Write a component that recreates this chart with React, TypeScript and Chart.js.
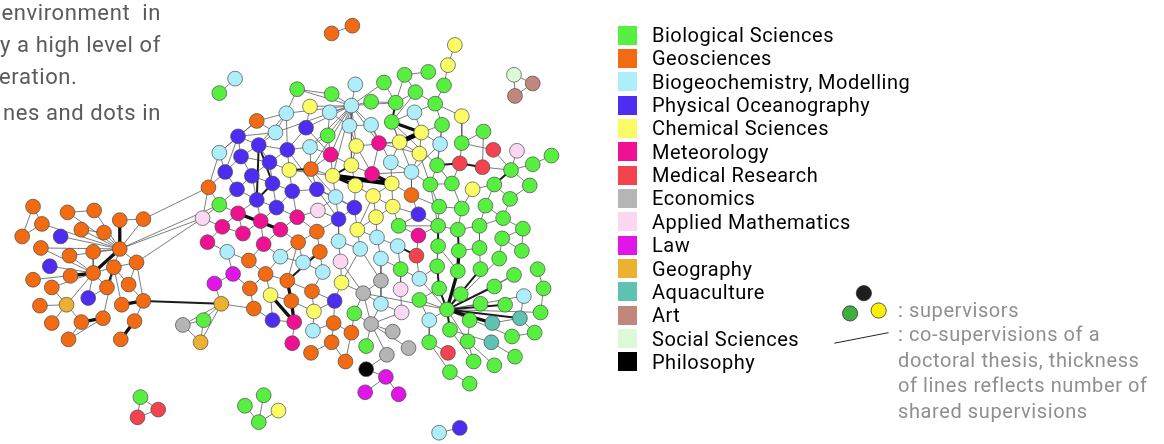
import React, { useEffect, useRef } from "react";
import { Chart, registerables } from "chart.js";
Chart.register(...registerables);

const CATEGORY_CODES = ["B", "G", "C", "P", "Y", "M", "R", "E", "A", "L", "O", "Q", "T", "S", "K"];
const CATEGORY_NAMES = [
  "Biological Sciences", "Geosciences", "Biogeochemistry, Modelling", "Physical Oceanography",
  "Chemical Sciences", "Meteorology", "Medical Research", "Economics", "Applied Mathematics",
  "Law", "Geography", "Aquaculture", "Art", "Social Sciences", "Philosophy",
];
const CATEGORY_COLORS = [
  "#58f040", "#f26b12", "#aeeefa", "#4f2cf2", "#fbfb66", "#ef1192", "#f3434f", "#b5b5b5",
  "#fcd7f1", "#e115e7", "#edb132", "#5fc2b2", "#c1877c", "#dcfad6", "#000000",
];

type N = [string, number, number, string];

const westNodes: N[] = [
  ["w1", 25, 206, "G"], ["w2", 34, 224, "G"], ["w3", 14, 237, "G"], ["w4", 60, 212, "G"], ["w5", 87, 210, "G"],
  ["w6", 113, 220, "G"], ["w7", 137, 219, "G"], ["w8", 74, 230, "G"], ["w9", 97, 233, "G"], ["w10", 53, 237, "P"],
  ["w11", 33, 249, "G"], ["w12", 62, 257, "G"], ["w13", 86, 253, "G"], ["w14", 113, 250, "G"], ["w15", 130, 264, "G"],
  ["w16", 42, 268, "P"], ["w17", 63, 278, "G"], ["w18", 86, 275, "G"], ["w19", 107, 269, "G"], ["w20", 25, 282, "G"],
  ["w21", 44, 290, "G"], ["w22", 100, 290, "G"], ["w23", 122, 287, "G"], ["w24", 81, 301, "P"], ["w25", 59, 308, "O"],
  ["w26", 32, 309, "G"], ["w27", 115, 308, "G"], ["w28", 137, 304, "G"], ["w29", 44, 327, "G"], ["w30", 74, 326, "G"],
  ["w31", 96, 322, "G"], ["w32", 128, 325, "G"], ["w33", 61, 344, "G"], ["w34", 114, 344, "G"],
];

const coreNodes: N[] = [
  ["c1", 230, 73, "C"], ["c2", 214, 88, "B"], ["c3", 293, 84, "B"], ["c4", 328, 89, "B"], ["c5", 352, 79, "C"],
  ["c6", 381, 77, "B"], ["c7", 402, 69, "B"], ["c8", 426, 66, "B"], ["c9", 413, 87, "B"], ["c10", 393, 98, "B"],
  ["c11", 368, 97, "B"], ["c12", 348, 101, "C"], ["c13", 433, 99, "B"], ["c14", 442, 80, "B"], ["c15", 446, 59, "Y"],
  ["c16", 453, 38, "Y"], ["c17", 306, 102, "Y"], ["c18", 282, 109, "C"], ["c19", 326, 108, "C"], ["c20", 412, 108, "C"],
  ["c21", 460, 112, "Y"], ["c22", 252, 117, "G"], ["c23", 302, 124, "P"], ["c24", 346, 122, "C"], ["c25", 368, 121, "C"],
  ["c26", 389, 118, "B"], ["c27", 440, 121, "B"], ["c28", 324, 132, "B"], ["c29", 271, 129, "C"], ["c30", 233, 133, "P"],
  ["c31", 419, 129, "Y"], ["c32", 482, 128, "B"], ["c33", 254, 142, "P"], ["c34", 283, 147, "P"], ["c35", 306, 144, "C"],
  ["c36", 353, 143, "Y"], ["c37", 376, 140, "M"], ["c38", 397, 139, "Y"], ["c39", 438, 141, "C"], ["c40", 460, 140, "B"],
  ["c41", 492, 147, "R"], ["c42", 516, 148, "A"], ["c43", 551, 153, "B"], ["c44", 327, 152, "M"], ["c45", 214, 150, "C"],
  ["c46", 236, 154, "P"], ["c47", 265, 160, "P"], ["c48", 285, 168, "Y"], ["c49", 307, 167, "G"], ["c50", 348, 163, "Y"],
  ["c51", 369, 172, "M"], ["c52", 388, 160, "C"], ["c53", 417, 151, "Y"], ["c54", 435, 163, "B"], ["c55", 458, 161, "R"],
  ["c56", 481, 165, "R"], ["c57", 532, 162, "B"], ["c58", 510, 168, "B"], ["c59", 329, 174, "Y"], ["c60", 220, 170, "P"],
  ["c61", 247, 174, "P"], ["c62", 409, 170, "C"], ["c63", 203, 186, "G"], ["c64", 268, 182, "P"], ["c65", 232, 188, "P"],
  ["c66", 288, 190, "P"], ["c67", 313, 188, "P"], ["c68", 352, 184, "Y"], ["c69", 389, 182, "Y"], ["c70", 428, 183, "B"],
  ["c71", 450, 182, "B"], ["c72", 471, 188, "Y"], ["c73", 493, 183, "B"], ["c74", 529, 184, "B"], ["c75", 332, 196, "C"],
  ["c76", 370, 195, "Y"], ["c77", 409, 194, "G"], ["c78", 214, 204, "B"], ["c79", 252, 199, "P"], ["c80", 272, 207, "P"],
  ["c81", 351, 207, "P"], ["c82", 314, 210, "A"], ["c83", 390, 206, "Y"], ["c84", 437, 206, "B"], ["c85", 460, 208, "B"],
  ["c86", 484, 205, "B"], ["c87", 509, 198, "B"], ["c88", 197, 218, "A"], ["c89", 233, 213, "M"], ["c90", 256, 221, "M"],
  ["c91", 293, 217, "M"], ["c92", 335, 219, "P"], ["c93", 373, 217, "Y"], ["c94", 416, 214, "P"], ["c95", 502, 218, "B"],
  ["c96", 217, 227, "M"], ["c97", 276, 230, "M"], ["c98", 313, 232, "G"], ["c99", 354, 230, "Y"], ["c100", 238, 234, "M"],
  ["c101", 396, 226, "B"], ["c102", 436, 226, "B"], ["c103", 456, 230, "B"], ["c104", 478, 226, "B"], ["c105", 522, 229, "B"],
  ["c106", 374, 238, "C"], ["c107", 416, 236, "M"], ["c108", 202, 243, "M"], ["c109", 259, 245, "M"], ["c110", 294, 243, "G"],
  ["c111", 335, 242, "C"], ["c112", 395, 247, "C"], ["c113", 436, 247, "B"], ["c114", 457, 252, "B"], ["c115", 478, 249, "B"],
  ["c116", 501, 239, "B"], ["c117", 521, 252, "B"], ["c118", 222, 253, "C"], ["c119", 244, 262, "G"], ["c120", 276, 258, "C"],
  ["c121", 299, 264, "C"], ["c122", 316, 253, "G"], ["c123", 357, 250, "C"], ["c124", 378, 260, "C"], ["c125", 414, 257, "R"],
  ["c126", 337, 263, "A"], ["c127", 435, 268, "B"], ["c128", 398, 271, "B"], ["c129", 456, 273, "B"], ["c130", 479, 271, "B"],
  ["c131", 537, 271, "B"], ["c132", 513, 277, "B"], ["c133", 228, 276, "L"], ["c134", 261, 276, "G"], ["c135", 319, 274, "C"],
  ["c136", 283, 283, "G"], ["c137", 338, 285, "Y"], ["c138", 378, 283, "E"], ["c139", 417, 281, "C"], ["c140", 209, 286, "L"],
  ["c141", 245, 291, "G"], ["c142", 308, 294, "G"], ["c143", 360, 296, "E"], ["c144", 398, 292, "A"], ["c145", 437, 291, "B"],
  ["c146", 493, 289, "B"], ["c147", 543, 291, "B"], ["c148", 266, 298, "Y"], ["c149", 287, 304, "G"], ["c150", 331, 304, "P"],
  ["c151", 216, 307, "O"], ["c152", 378, 307, "C"], ["c153", 417, 303, "B"], ["c154", 459, 297, "B"], ["c155", 523, 299, "C"],
  ["c156", 249, 312, "G"], ["c157", 310, 315, "Y"], ["c158", 351, 317, "B"], ["c159", 399, 316, "A"], ["c160", 445, 313, "B"],
  ["c161", 479, 307, "B"], ["c162", 504, 308, "B"], ["c163", 540, 316, "B"], ["c164", 198, 324, "B"], ["c165", 268, 324, "P"],
  ["c166", 290, 326, "M"], ["c167", 330, 327, "G"], ["c168", 368, 328, "E"], ["c169", 427, 324, "C"], ["c170", 468, 324, "B"],
  ["c171", 491, 327, "Q"], ["c172", 519, 322, "Q"], ["c173", 177, 329, "E"], ["c174", 309, 335, "C"], ["c175", 348, 337, "G"],
  ["c176", 390, 336, "E"], ["c177", 448, 334, "B"], ["c178", 511, 341, "B"], ["c179", 534, 337, "B"], ["c180", 195, 347, "O"],
  ["c181", 288, 348, "M"], ["c182", 328, 347, "G"], ["c183", 363, 351, "B"], ["c184", 406, 353, "E"], ["c185", 427, 347, "B"],
  ["c186", 466, 346, "B"], ["c187", 490, 347, "Q"], ["c188", 307, 358, "G"], ["c189", 384, 360, "E"], ["c190", 446, 358, "R"],
  ["c191", 342, 367, "G"], ["c192", 472, 367, "B"], ["c193", 493, 371, "B"], ["c194", 514, 362, "B"], ["c195", 363, 375, "K"],
  ["c196", 383, 383, "L"], ["c197", 448, 378, "B"], ["c198", 362, 399, "L"], ["c199", 396, 401, "L"], ["c200", 468, 390, "B"],
  ["c201", 498, 260, "B"],
];

const islandNodes: N[] = [
  ["i1", 328, 26, "G"], ["i2", 349, 18, "G"], ["i3", 513, 69, "S"], ["i4", 532, 78, "T"], ["i5", 514, 91, "T"],
  ["i6", 134, 404, "B"], ["i7", 152, 417, "R"], ["i8", 131, 425, "R"], ["i9", 240, 413, "B"], ["i10", 259, 402, "B"],
  ["i11", 274, 418, "Y"], ["i12", 254, 430, "B"], ["i13", 437, 441, "C"], ["i14", 458, 436, "P"],
];

const westLinks: [string, string][] = [
  ["w1", "w2 w3"], ["w2", "w3 w14"], ["w4", "w5 w14"], ["w5", "w14"], ["w6", "w7 w14*3"], ["w7", "w14 c63"],
  ["w8", "w9 w14"], ["w9", "w14"], ["w10", "w14"], ["w11", "w14 w18"], ["w12", "w14 w18"], ["w13", "w14 w18"],
  ["w14", "w18*3 w19 w15 c88 c78"], ["w15", "w28 w23 c88 w19"], ["w16", "w18"], ["w17", "w18*3"],
  ["w18", "w19 w20 w21 w22 w24 w25"], ["w19", "w22*2 w27 w23 w31"], ["w21", "w25"], ["w22", "w24"], ["w23", "w28"],
  ["w25", "w26 w29 w30"], ["w27", "w28*3"], ["w28", "w32 c151*2"], ["w31", "w30*3 w33"], ["w30", "w33"], ["w32", "w34*3"],
];

const coreLinks: [string, string][] = [
  ["c1", "c2"], ["c3", "c12 c18 c4"], ["c4", "c12"], ["c5", "c12"], ["c6", "c12 c10"], ["c7", "c8 c10 c9"],
  ["c9", "c13 c10 c26"], ["c10", "c12 c26*2 c11"], ["c11", "c12"],
  ["c12", "c17 c18 c19 c24 c25 c23 c28 c35 c36 c44 c49 c50 c59 c37 c29"], ["c13", "c14 c27 c20 c21"],
  ["c14", "c15"], ["c15", "c16"], ["c17", "c23"], ["c18", "c22 c29 c33 c34"], ["c19", "c28 c24"], ["c20", "c26 c31"],
  ["c21", "c40"], ["c22", "c45 c30 c29"], ["c23", "c34 c44"], ["c24", "c36 c25"], ["c25", "c37 c52"],
  ["c26", "c31*3 c38 c54 c62"], ["c27", "c39 c54 c31"], ["c28", "c44 c35"], ["c29", "c33 c30"], ["c30", "c33 c46 c60 c45"],
  ["c31", "c38*4 c53 c39"], ["c32", "c56 c40"], ["c33", "c34 c46 c47 c64*2 c79*2"], ["c34", "c35 c47 c48 c67"],
  ["c35", "c49 c44"], ["c36", "c50 c51 c38"], ["c37", "c51 c53 c38"], ["c38", "c52 c53"], ["c39", "c54 c62"],
  ["c40", "c55 c41"], ["c41", "c58"], ["c42", "c58"], ["c43", "c57"], ["c44", "c59 c49 c50"], ["c45", "c60 c63"],
  ["c46", "c61 c47 c60"], ["c47", "c64 c48 c61"], ["c48", "c49*2 c59 c66"], ["c49", "c59 c67 c75"],
  ["c50", "c68 c59*2 c51"], ["c51", "c69*3 c62 c68"], ["c52", "c62 c69"], ["c53", "c62 c70"], ["c54", "c55*2 c70 c71"],
  ["c55", "c56*2 c71"], ["c56", "c58"], ["c57", "c58"], ["c58", "c73*2 c74"], ["c59", "c69*4 c68*3 c75"],
  ["c60", "c63 c65"], ["c61", "c64 c65 c79"], ["c62", "c70 c77"], ["c63", "c78 c88"], ["c64", "c66 c79*2 c80"],
  ["c65", "c79 c78"], ["c66", "c67 c80 c91"], ["c67", "c75 c92 c81"], ["c68", "c76 c81"], ["c69", "c76 c83 c77"],
  ["c70", "c84 c71 c102"], ["c71", "c85"], ["c72", "c85 c73"], ["c73", "c86 c87"], ["c74", "c87"],
  ["c75", "c92 c81 c82"], ["c76", "c83 c93 c99"], ["c77", "c94 c84"], ["c78", "c88 c89"], ["c79", "c80 c89 c90"],
  ["c80", "c90 c91"], ["c81", "c92 c99"], ["c82", "c91 c92"], ["c83", "c94 c93 c101"], ["c84", "c102 c85"],
  ["c85", "c103"], ["c86", "c104 c95"], ["c87", "c95"], ["c88", "c96"], ["c89", "c97*3 c96 c100"], ["c90", "c100 c109"],
  ["c91", "c98 c97"], ["c92", "c98 c111"], ["c93", "c99 c106"], ["c94", "c101 c102"], ["c95", "c105 c104"],
  ["c96", "c108 c100"], ["c97", "c110 c109"], ["c98", "c110 c122"], ["c99", "c106 c123"], ["c101", "c107 c102"],
  ["c102", "c113*2 c103 c107 c127"], ["c103", "c114*2 c104"], ["c104", "c115"], ["c105", "c117 c116"],
  ["c106", "c112 c124"], ["c107", "c125"], ["c108", "c118"], ["c109", "c119 c120"], ["c110", "c120 c121 c136"],
  ["c111", "c123 c126"], ["c112", "c125*2 c128"], ["c113", "c127 c129"], ["c114", "c129*3 c115"], ["c115", "c130"],
  ["c116", "c117 c201"], ["c118", "c133 c119"], ["c119", "c134"], ["c120", "c134 c121"], ["c121", "c135 c122"],
  ["c122", "c136*2 c135"], ["c123", "c137 c138"], ["c124", "c138 c139"], ["c125", "c139"], ["c126", "c137 c143"],
  ["c127", "c145*2 c139"], ["c128", "c144"], ["c129", "c160*3"], ["c130", "c160*2"], ["c131", "c147"],
  ["c132", "c160 c146"], ["c133", "c140 c141"], ["c134", "c136 c141 c148"], ["c135", "c142"], ["c136", "c149*3 c142"],
  ["c137", "c143 c150"], ["c138", "c143 c152"], ["c140", "c151"], ["c141", "c156"], ["c142", "c157 c150"],
  ["c143", "c168 c158 c152"], ["c144", "c159"], ["c145", "c160*2 c153"], ["c146", "c160*2"], ["c147", "c163"],
  ["c148", "c166*3 c149 c165"], ["c149", "c166*3 c157"], ["c150", "c167 c157"], ["c151", "c164 c173 c180 c156"],
  ["c152", "c159 c168"], ["c153", "c169 c160"], ["c154", "c160"], ["c155", "c160 c172"], ["c156", "c165"],
  ["c157", "c174"], ["c158", "c168 c175"], ["c159", "c168"],
  ["c160", "c161 c162*2 c163 c170 c171*3 c172*2 c177*2 c169 c178 c186 c201 c143 c139"],
  ["c164", "c173 c180"], ["c165", "c166"], ["c166", "c181"], ["c167", "c174 c175 c182"],
  ["c168", "c176 c183 c184 c189"], ["c169", "c185"], ["c170", "c186"], ["c171", "c172"], ["c172", "c179"],
  ["c173", "c180"], ["c175", "c191"], ["c177", "c192 c187"], ["c178", "c179"], ["c182", "c188 c191"],
  ["c185", "c190 c197"], ["c186", "c193 c192"], ["c187", "c194"], ["c189", "c195"], ["c195", "c196"],
  ["c196", "c198 c199"], ["c197", "c200"],
];

const islandLinks: [string, string][] = [
  ["i1", "i2"], ["i3", "i4 i5"], ["i4", "i5"], ["i6", "i7 i8"], ["i7", "i8"], ["i12", "i9 i10 i11"], ["i13", "i14"],
];

// Key example in the lower right: supervisors and one co-supervision link
const exampleNodeX = [868, 854, 883];
const exampleNodeY = [296, 317, 314];
const exampleNodeColors = ["#1e1e1e", "#3fae40", "#fff000"];
const exampleLinkX = [838, 893];
const exampleLinkY = [348, 337];

const introLines = ["environment  in", "y a high level of", "eration.", "nes and dots in"];
const keyLines = [": supervisors", ": co-supervisions of a", "doctoral thesis, thickness", "of lines reflects number of", "shared supervisions"];

const LINK_STYLE: Record<number, { w: number; c: string }> = {
  1: { w: 0.8, c: "#5c5c5c" },
  2: { w: 2, c: "#1c1c1c" },
  3: { w: 3.3, c: "#111111" },
  4: { w: 4.8, c: "#000000" },
};

export default function App() {
  const ref = useRef<HTMLCanvasElement | null>(null);

  useEffect(() => {
    const nodes = [...westNodes, ...coreNodes, ...islandNodes];
    const map = new Map<string, N>();
    nodes.forEach((n) => map.set(n[0], n));

    const byWeight: Record<number, { x: number; y: number }[]> = { 1: [], 2: [], 3: [], 4: [] };
    [...westLinks, ...coreLinks, ...islandLinks].forEach(([from, list]) => {
      const a = map.get(from);
      if (!a) return;
      list.split(" ").forEach((tok) => {
        const [id, wStr] = tok.split("*");
        const b = map.get(id);
        if (!b) return;
        const w = wStr ? parseInt(wStr, 10) : 1;
        byWeight[w].push({ x: a[1], y: a[2] }, { x: b[1], y: b[2] }, { x: NaN, y: NaN });
      });
    });

    const nodeSets = CATEGORY_CODES.map((code, i) => ({
      type: "scatter" as const,
      label: CATEGORY_NAMES[i],
      data: nodes.filter((n) => n[3] === code).map((n) => ({ x: n[1], y: n[2] })),
      backgroundColor: CATEGORY_COLORS[i],
      borderColor: "#4a4a4a",
      borderWidth: 0.7,
      pointRadius: 7.4,
      showLine: false,
      order: 0,
      clip: false as any,
    }));

    const exampleSet = {
      type: "scatter" as const,
      label: "example",
      data: exampleNodeX.map((x, i) => ({ x, y: exampleNodeY[i] })),
      backgroundColor: exampleNodeColors,
      borderColor: "#333",
      borderWidth: 0.8,
      pointRadius: 7.6,
      showLine: false,
      order: 0,
      clip: false as any,
    };

    const linkSets = [1, 2, 3, 4].map((w, i) => ({
      type: "scatter" as const,
      label: "links" + w,
      data: byWeight[w],
      showLine: true,
      spanGaps: false,
      borderColor: LINK_STYLE[w].c,
      borderWidth: LINK_STYLE[w].w,
      pointRadius: 0,
      order: 10 - i,
      clip: false as any,
    }));

    const exampleLink = {
      type: "scatter" as const,
      label: "exampleLink",
      data: exampleLinkX.map((x, i) => ({ x, y: exampleLinkY[i] })),
      showLine: true,
      borderColor: "#222",
      borderWidth: 1,
      pointRadius: 0,
      order: 1,
      clip: false as any,
    };

    const chart = new Chart(ref.current as HTMLCanvasElement, {
      type: "scatter",
      data: { datasets: [...nodeSets, exampleSet, exampleLink, ...linkSets] as any },
      options: {
        animation: false,
        responsive: false,
        devicePixelRatio: 1,
        events: [],
        layout: { padding: 0 },
        plugins: { legend: { display: false }, tooltip: { enabled: false }, title: { display: false } },
        scales: {
          x: { type: "linear", min: 0, max: 1164, display: false },
          y: { type: "linear", min: 0, max: 444, reverse: true, display: false },
        },
      },
    });
    return () => chart.destroy();
  }, []);

  const font = "Roboto, 'DejaVu Sans', sans-serif";
  const legendTop = 35;
  const legendStep = 23.35;

  return (
    <div style={{ position: "absolute", left: 0, top: 0, width: 1164, height: 444, background: "#fff", overflow: "hidden", fontFamily: font }}>
      <canvas ref={ref} width={1164} height={444} style={{ position: "absolute", left: 0, top: 0 }} />
      {introLines.map((t, i) => (
        <div
          key={"intro" + i}
          style={{
            position: "absolute",
            top: [0, 32, 64, 100][i],
            left: i === 2 ? -1 : undefined,
            right: i === 2 ? undefined : 1164 - 161,
            fontSize: 22,
            letterSpacing: 0.6,
            lineHeight: "26px",
            color: "#5a5a5a",
            whiteSpace: "pre",
          }}
        >
          {t}
        </div>
      ))}
      {CATEGORY_NAMES.map((name, i) => {
        const cy = legendTop + legendStep * i;
        return (
          <React.Fragment key={name}>
            <div style={{ position: "absolute", left: 618, top: cy - 9.5, width: 19, height: 19, background: CATEGORY_COLORS[i] }} />
            <div style={{ position: "absolute", left: 652, top: cy - 12, height: 24, lineHeight: "24px", fontSize: 20, letterSpacing: 0.5, color: "#000", whiteSpace: "pre" }}>
              {name}
            </div>
          </React.Fragment>
        );
      })}
      {keyLines.map((t, i) => (
        <div
          key={"key" + i}
          style={{ position: "absolute", left: 898, top: [310, 334, 360, 385, 411][i] - 12, height: 24, lineHeight: "24px", fontSize: 20, letterSpacing: 0.6, color: "#8f8f8f", whiteSpace: "pre" }}
        >
          {t}
        </div>
      ))}
    </div>
  );
}
